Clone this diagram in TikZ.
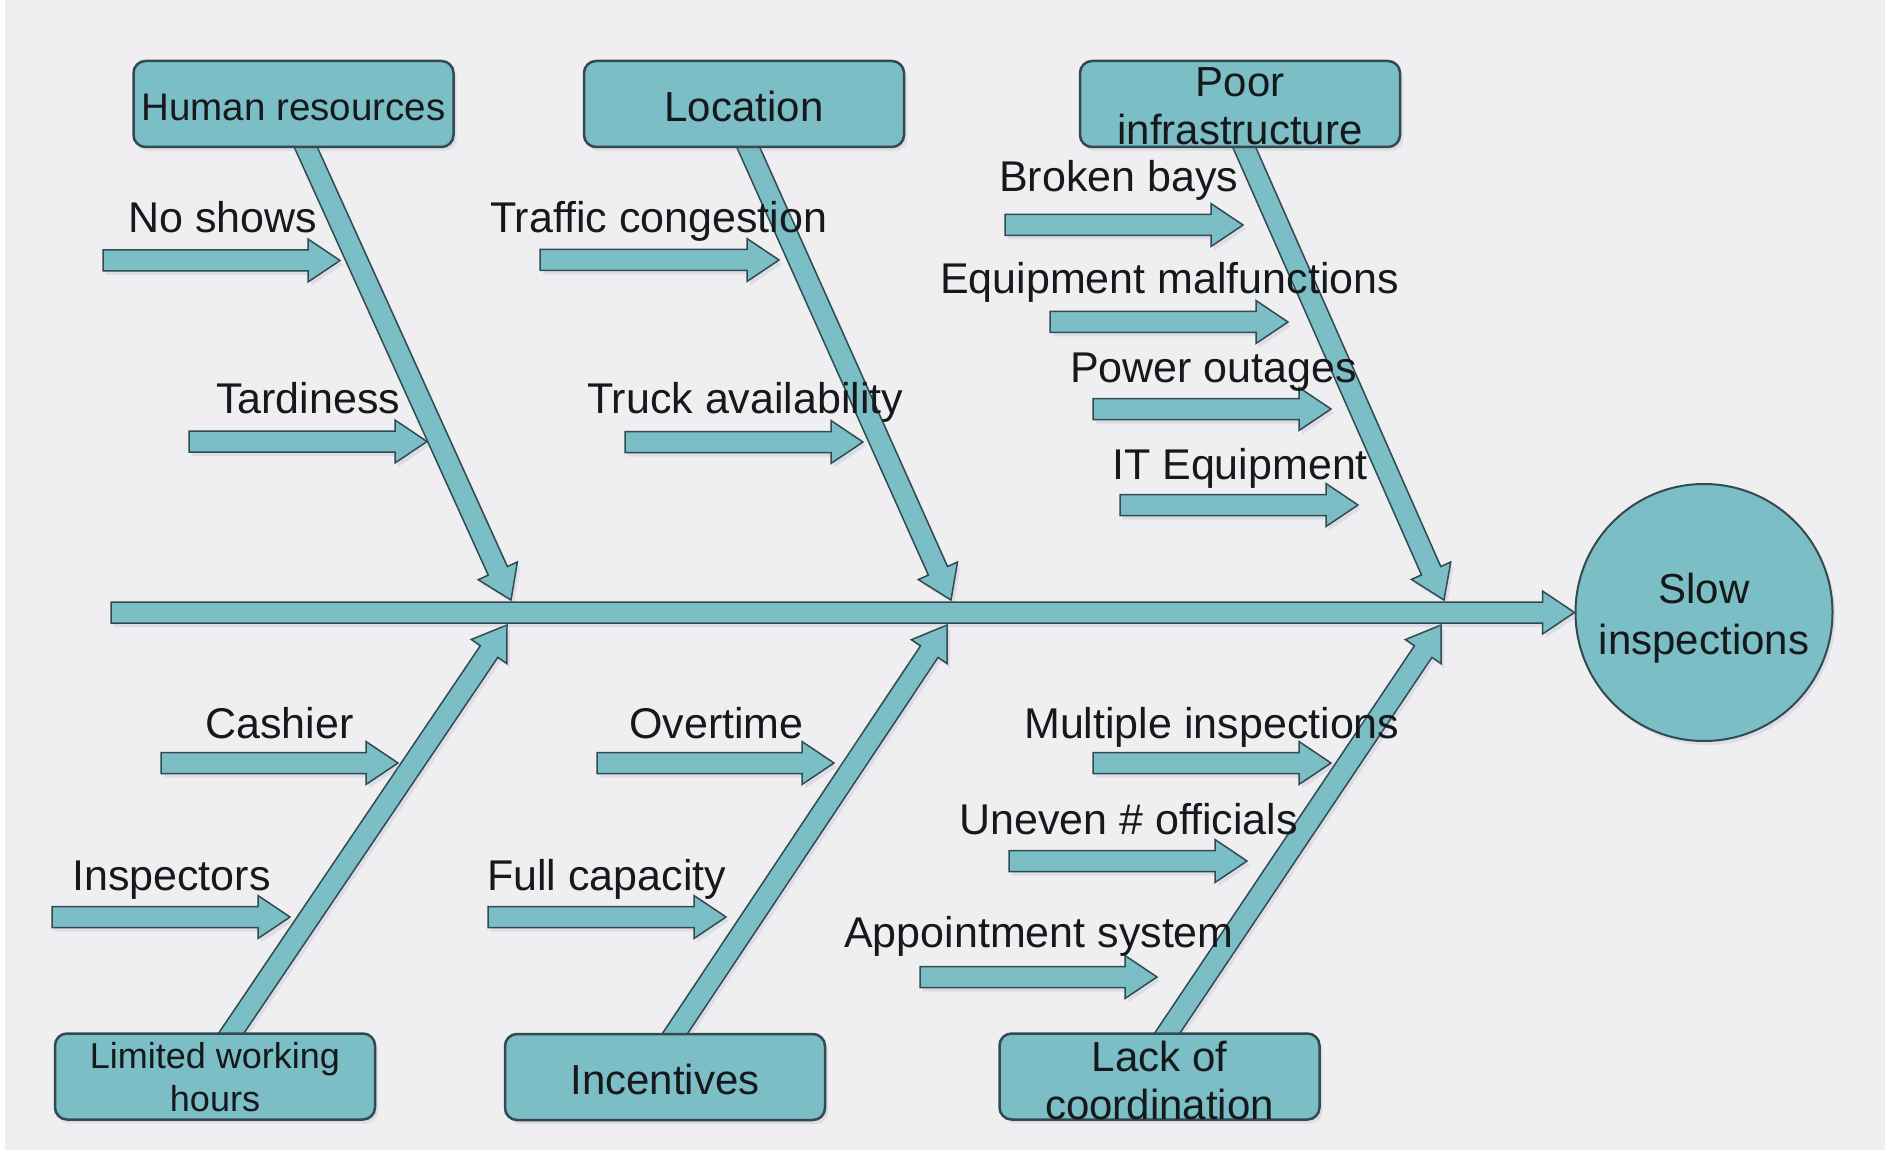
\documentclass[tikz,border=0pt]{standalone}
\usepackage{fontspec}
\setmainfont{Liberation Sans}
\usetikzlibrary{calc,shadows}
\definecolor{bgc}{RGB}{239,239,241}
\definecolor{tealfill}{RGB}{123,190,198}
\definecolor{edgec}{RGB}{50,74,80}
\definecolor{inkc}{RGB}{22,25,27}
\definecolor{shadec}{RGB}{140,140,185}
\newcommand\fishbonearrow[2]{%
  \coordinate (ba-h) at ($(#2)!32pt!(#1)$);
  \path[arrowbody] ($(#1)!10.5pt!90:(#2)$) -- ($(ba-h)!10.5pt!90:(#2)$) -- ($(ba-h)!21.5pt!90:(#2)$) -- (#2) -- ($(ba-h)!21.5pt!-90:(#2)$) -- ($(ba-h)!10.5pt!-90:(#2)$) -- ($(#1)!10.5pt!-90:(#2)$) -- cycle;}
\begin{document}
\begin{tikzpicture}[x=1pt,y=-1pt,
  shadowstyle/.style={drop shadow={shadow xshift=3pt,shadow yshift=-4pt,opacity=0.18,fill=shadec}},
  arrowbody/.style={draw=edgec,line width=1.5pt,fill=tealfill,line join=miter,shadowstyle},
  causebox/.style={draw=edgec,line width=2.5pt,fill=tealfill,rounded corners=12pt,minimum width=320pt,minimum height=86pt,inner sep=0pt,shadowstyle},
  boxtext/.style={text=inkc,align=center,inner sep=0pt,font=\fontsize{42}{48}\selectfont},
  lbl/.style={text=inkc,anchor=base west,inner sep=0pt,font=\fontsize{43}{48}\selectfont}]
\fill[white] (0,0) rectangle (1885,1150);
\fill[bgc] (5,0) rectangle (1885,1150);
\useasboundingbox (0,0) rectangle (1885,1150);

% category box positions
\path (293.5,104) coordinate (hr) (744,104) coordinate (loc) (1240,104) coordinate (poor)
      (215,1076.5) coordinate (lwh) (665,1077) coordinate (inc) (1159.5,1076.5) coordinate (lack);

% branch start/tip points
\coordinate (b1) at (302.5,140);
\coordinate (b2) at (745,140);
\coordinate (b3) at (1241,140);
\coordinate (b4) at (226,1041);
\coordinate (b5) at (670,1041);
\coordinate (b6) at (1162,1041);
\coordinate (t1) at (511,600);
\coordinate (t2) at (951,600);
\coordinate (t3) at (1444,600);
\coordinate (t4) at (507,625);
\coordinate (t5) at (947,625);
\coordinate (t6) at (1441,625);

% effect
\node[circle,draw=edgec,line width=2pt,fill=tealfill,minimum size=257pt,inner sep=0pt,shadowstyle] (effect) at (1704,612.5) {};

% branches
\fishbonearrow{b1}{t1}
\fishbonearrow{b2}{t2}
\fishbonearrow{b3}{t3}
\fishbonearrow{b4}{t4}
\fishbonearrow{b5}{t5}
\fishbonearrow{b6}{t6}

% sub-cause arrows
\coordinate (s1) at (103,260.5);  \coordinate (e1) at (340,260.5);
\coordinate (s2) at (189,441.5);  \coordinate (e2) at (427,441.5);
\coordinate (s3) at (540,260);    \coordinate (e3) at (779,260);
\coordinate (s4) at (625,442);    \coordinate (e4) at (863,442);
\coordinate (s5) at (1005,225);   \coordinate (e5) at (1243,225);
\coordinate (s6) at (1050,322);   \coordinate (e6) at (1288,322);
\coordinate (s7) at (1093,409);   \coordinate (e7) at (1331,409);
\coordinate (s8) at (1120,505);   \coordinate (e8) at (1358,505);
\coordinate (s9) at (161,763);    \coordinate (e9) at (398,763);
\coordinate (s10) at (52,917);    \coordinate (e10) at (290,917);
\coordinate (s11) at (597,763);   \coordinate (e11) at (834,763);
\coordinate (s12) at (488,917);   \coordinate (e12) at (726,917);
\coordinate (s13) at (1093,763);  \coordinate (e13) at (1331,763);
\coordinate (s14) at (1009,861);  \coordinate (e14) at (1247,861);
\coordinate (s15) at (920,977);   \coordinate (e15) at (1157,977);
\foreach \i in {1,...,15}{\fishbonearrow{s\i}{e\i}}

% spine
\coordinate (sp) at (111,612.5);
\fishbonearrow{sp}{effect.west}

% boxes
\node[causebox] (hrbox) at (hr) {};
\node[causebox] (locbox) at (loc) {};
\node[causebox] (poorbox) at (poor) {};
\node[causebox] (lwhbox) at (lwh) {};
\node[causebox] (incbox) at (inc) {};
\node[causebox] (lackbox) at (lack) {};

% box texts
\node[boxtext,font=\fontsize{38.5}{44}\selectfont] (hr-t) at ($(hrbox.center)+(0,3)$) {Human resources};
\node[boxtext] (loc-t) at ($(locbox.center)+(0,2)$) {Location};
\node[boxtext] (poor-t) at ($(poorbox.center)+(0,2)$) {Poor\\infrastructure};
\node[boxtext,font=\fontsize{36}{43}\selectfont] (lwh-t) at ($(lwhbox.center)+(0,1)$) {Limited working\\hours};
\node[boxtext] (inc-t) at ($(incbox.center)+(0,2)$) {Incentives};
\node[boxtext] (lack-t) at ($(lackbox.center)+(0,4)$) {Lack of\\coordination};
\node[boxtext,font=\fontsize{42}{51}\selectfont] (effect-t) at ($(effect.center)+(0,6)$) {Slow\\inspections};

% labels
\node[lbl] (l1) at (128,233) {No shows};
\node[lbl] (l2) at (216,413) {Tardiness};
\node[lbl] (l3) at (490,233) {Traffic congestion};
\node[lbl] (l4) at (587,413) {Truck availability};
\node[lbl] (l5) at (999,192) {Broken bays};
\node[lbl] (l6) at (940,294) {Equipment malfunctions};
\node[lbl] (l7) at (1070,382) {Power outages};
\node[lbl] (l8) at (1112,479) {IT Equipment};
\node[lbl] (l9) at (205,738) {Cashier};
\node[lbl] (l10) at (72,890) {Inspectors};
\node[lbl] (l11) at (629,738) {Overtime};
\node[lbl] (l12) at (487,890) {Full capacity};
\node[lbl] (l13) at (1024,738) {Multiple inspections};
\node[lbl] (l14) at (959,834) {Uneven \# officials};
\node[lbl] (l15) at (844,947) {Appointment system};
\end{tikzpicture}
\end{document}
